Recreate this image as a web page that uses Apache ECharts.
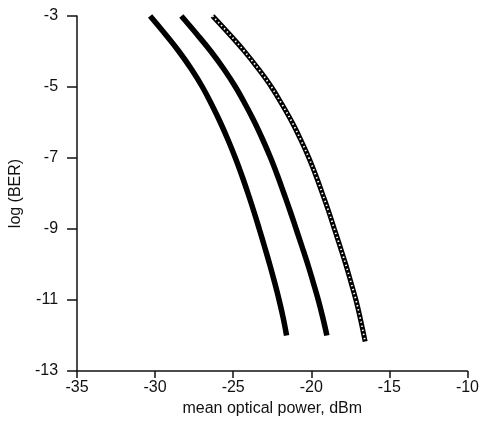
<!DOCTYPE html>
<html>
<head>
<meta charset="utf-8">
<script src="https://cdn.jsdelivr.net/npm/echarts@6/dist/echarts.min.js"></script>
<style>
html,body{margin:0;padding:0;background:#fff;}
#chart{width:482px;height:424px;}
</style>
</head>
<body>
<div id="chart"></div>
<script>
// log(BER) levels
var logBER = [-3, -3.5, -4, -4.5, -5, -5.5, -6, -6.5, -7, -7.5, -8, -8.5, -9, -9.5, -10, -10.5, -11, -11.5, -12];
var logBER3 = [-3, -3.5, -4, -4.5, -5, -5.5, -6, -6.5, -7, -7.5, -8, -8.5, -9, -9.5, -10, -10.5, -11, -11.5, -12, -12.17];
// mean optical power (dBm) of each curve at those levels
var power1 = [-30.32, -29.37, -28.47, -27.67, -26.97, -26.37, -25.82, -25.32, -24.86, -24.44, -24.05, -23.68, -23.33, -22.99, -22.66, -22.35, -22.06, -21.80, -21.58];
var power2 = [-28.32, -27.35, -26.42, -25.59, -24.85, -24.21, -23.62, -23.09, -22.60, -22.16, -21.75, -21.35, -20.97, -20.59, -20.22, -19.88, -19.55, -19.26, -19.00];
var power3 = [-26.32, -25.27, -24.27, -23.37, -22.55, -21.86, -21.22, -20.66, -20.15, -19.70, -19.29, -18.89, -18.52, -18.15, -17.79, -17.46, -17.14, -16.87, -16.63, -16.55];
var xTicks = [-35, -30, -25, -20, -15, -10];
var yTicks = [-13, -11, -9, -7, -5, -3];

function pairs(xs, ys) { return xs.map(function (v, i) { return [v, ys[i]]; }); }

var FONT = 'Liberation Sans';
var chart = echarts.init(document.getElementById('chart'), null, {renderer: 'canvas'});
chart.setOption({
  animation: false,
  backgroundColor: '#fff',
  grid: {left: 69, right: 10, top: 16, bottom: 53, containLabel: false},
  xAxis: {
    type: 'value', min: xTicks[0], max: xTicks[xTicks.length - 1], interval: 5,
    name: 'mean optical power, dBm', nameLocation: 'middle', nameGap: 29,
    nameTextStyle: {fontFamily: FONT, fontSize: 16, color: '#111'},
    axisLine: {show: true, onZero: false, lineStyle: {color: '#111', width: 1.5}},
    axisTick: {show: true, length: 7, lineStyle: {color: '#111', width: 1.5}},
    axisLabel: {fontFamily: FONT, fontSize: 16, color: '#111', margin: 9},
    splitLine: {show: false}
  },
  yAxis: {
    type: 'value', min: yTicks[0], max: yTicks[yTicks.length - 1], interval: 2,
    name: 'log (BER)', nameLocation: 'middle', nameGap: 44, nameRotate: 90,
    nameTextStyle: {fontFamily: FONT, fontSize: 16, color: '#111'},
    axisLine: {show: true, onZero: false, lineStyle: {color: '#111', width: 1.5}},
    axisTick: {show: true, length: 10, lineStyle: {color: '#111', width: 1.5}},
    axisLabel: {fontFamily: FONT, fontSize: 16, color: '#111', margin: 19},
    splitLine: {show: false}
  },
  series: [
    {type: 'line', data: pairs(power1, logBER), smooth: 0.4, showSymbol: false,
     lineStyle: {color: '#000', width: 5.5}},
    {type: 'line', data: pairs(power2, logBER), smooth: 0.4, showSymbol: false,
     lineStyle: {color: '#000', width: 5.5}},
    {type: 'line', data: pairs(power3, logBER3), smooth: 0.4, showSymbol: false,
     lineStyle: {color: '#000', width: 5}},
    {type: 'line', data: pairs(power3, logBER3), smooth: 0.4, showSymbol: false,
     lineStyle: {color: '#fff', width: 1.8, type: [1.4, 2.8]}}
  ]
});
</script>
</body>
</html>
